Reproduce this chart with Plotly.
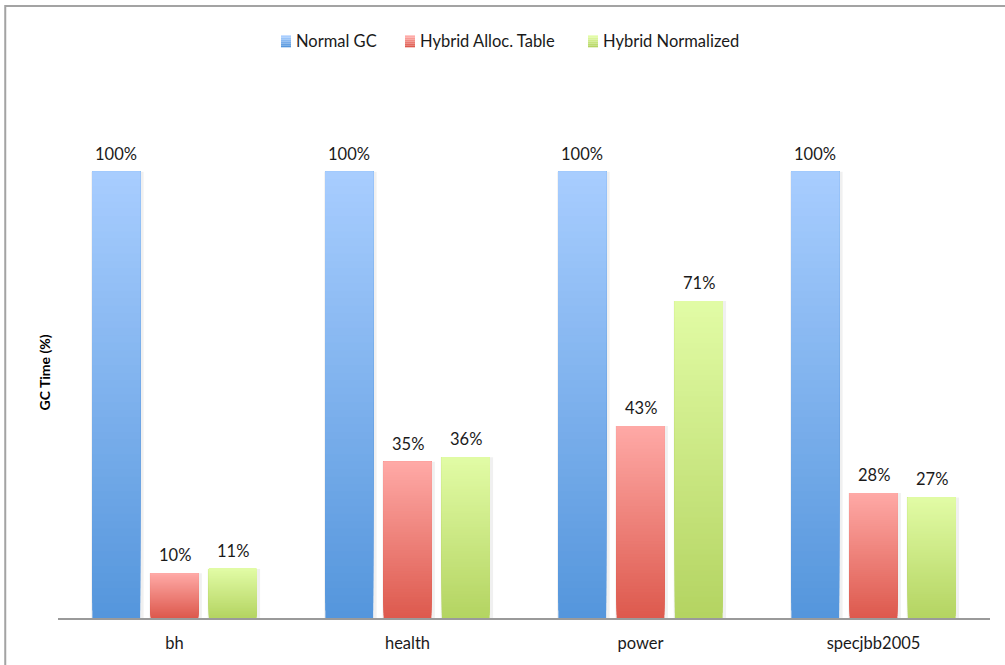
import plotly.graph_objects as go

# Benchmarks and GC time relative to the normal collector (%)
benchmarks = ["bh", "health", "power", "specjbb2005"]
normal_gc = [100, 100, 100, 100]
hybrid_alloc_table = [10, 35, 43, 28]
hybrid_normalized = [11, 36, 71, 27]

series = [
    ("Normal GC", normal_gc, (85, 150, 220), (169, 206, 255), -0.25),
    ("Hybrid Alloc. Table", hybrid_alloc_table, (221, 90, 78), (255, 170, 167), 0.0),
    ("Hybrid Normalized", hybrid_normalized, (180, 212, 98), (226, 252, 166), 0.25),
]

BAR_W = 0.205
STEPS = 60
FONT = "Lato, 'Open Sans', sans-serif"
TXT = "#1a1a1a"
PLOT_W = 1005 - 58 - 15
PX_PER_CAT = PLOT_W / len(benchmarks)


def mix(c0, c1, t):
    return "rgb({},{},{})".format(*[round(a + (b - a) * t) for a, b in zip(c0, c1)])


fig = go.Figure()

# each bar is layered from darker (bottom) to lighter (top) to build a vertical gradient
for name, vals, dark, light, shift in series:
    # soft drop shadow behind each bar
    fig.add_trace(go.Bar(
        x=benchmarks, y=vals, base=[0] * len(vals),
        width=BAR_W + 0.02, offset=shift - BAR_W / 2 - 0.005,
        marker=dict(color="rgba(0,0,0,0.06)", line=dict(width=0)),
        showlegend=False, hoverinfo="skip",
    ))
    for i in range(STEPS):
        t = i / STEPS
        fig.add_trace(go.Bar(
            x=benchmarks,
            y=[v * (1 - t) for v in vals],
            base=[v * t for v in vals],
            width=BAR_W, offset=shift - BAR_W / 2,
            marker=dict(color=mix(dark, light, t), line=dict(width=0)),
            showlegend=False, hoverinfo="skip",
        ))

annotations = []
# value labels above bars
for name, vals, dark, light, shift in series:
    for cat, v in zip(benchmarks, vals):
        annotations.append(dict(
            x=cat, y=v, text=f"{v}%", showarrow=False,
            xanchor="center", yanchor="bottom",
            xshift=shift * PX_PER_CAT, yshift=6,
            font=dict(family=FONT, size=16.5, color=TXT),
        ))

# legend row drawn as swatches and labels
legend_x = [281, 405, 588]
shapes = []
for (name, vals, dark, light, shift), lx in zip(series, legend_x):
    for k in range(6):
        t = 1 - k / 5
        shapes.append(dict(
            type="rect", xref="paper", yref="paper",
            x0=(lx - 58) / PLOT_W, x1=(lx + 10 - 58) / PLOT_W,
            y0=(620 - 47 + k * 2) / 493, y1=(620 - 47 + (k + 1) * 2) / 493,
            fillcolor=mix(dark, light, k / 5), line=dict(width=0),
        ))
    annotations.append(dict(
        text=name, xref="paper", yref="paper",
        x=(lx + 13 - 58) / PLOT_W, y=(620 - 41) / 493,
        xanchor="left", yanchor="middle", showarrow=False,
        font=dict(family=FONT, size=16.5, color=TXT),
    ))

annotations.append(dict(
    text="<b>GC Time (%)</b>", textangle=-90,
    xref="paper", yref="paper", x=-0.014, y=0.5,
    xanchor="center", yanchor="middle", showarrow=False,
    font=dict(family=FONT, size=14, color="#000000"),
))

# chart frame
shapes.append(dict(
    type="rect", xref="paper", yref="paper",
    x0=-0.0566, x1=1.2, y0=-0.3, y1=1.2465,
    line=dict(color="#a3a3a3", width=2), layer="below",
))

fig.update_layout(
    width=1005, height=665,
    margin=dict(l=58, r=15, t=127, b=45),
    paper_bgcolor="white", plot_bgcolor="white",
    barmode="overlay",
    showlegend=False,
    font=dict(family=FONT, size=16.5, color=TXT),
    xaxis=dict(
        range=[-0.5, 3.5], showline=True, linecolor="#9a9a9a", linewidth=2,
        showgrid=False, zeroline=False, ticks="", ticklabelstandoff=9,
        tickfont=dict(family=FONT, size=16.5, color=TXT),
    ),
    yaxis=dict(
        range=[0, 110], showticklabels=False, showgrid=False,
        zeroline=False, showline=False, ticks="",
    ),
    annotations=annotations,
    shapes=shapes,
)

fig.write_html("out.html")
